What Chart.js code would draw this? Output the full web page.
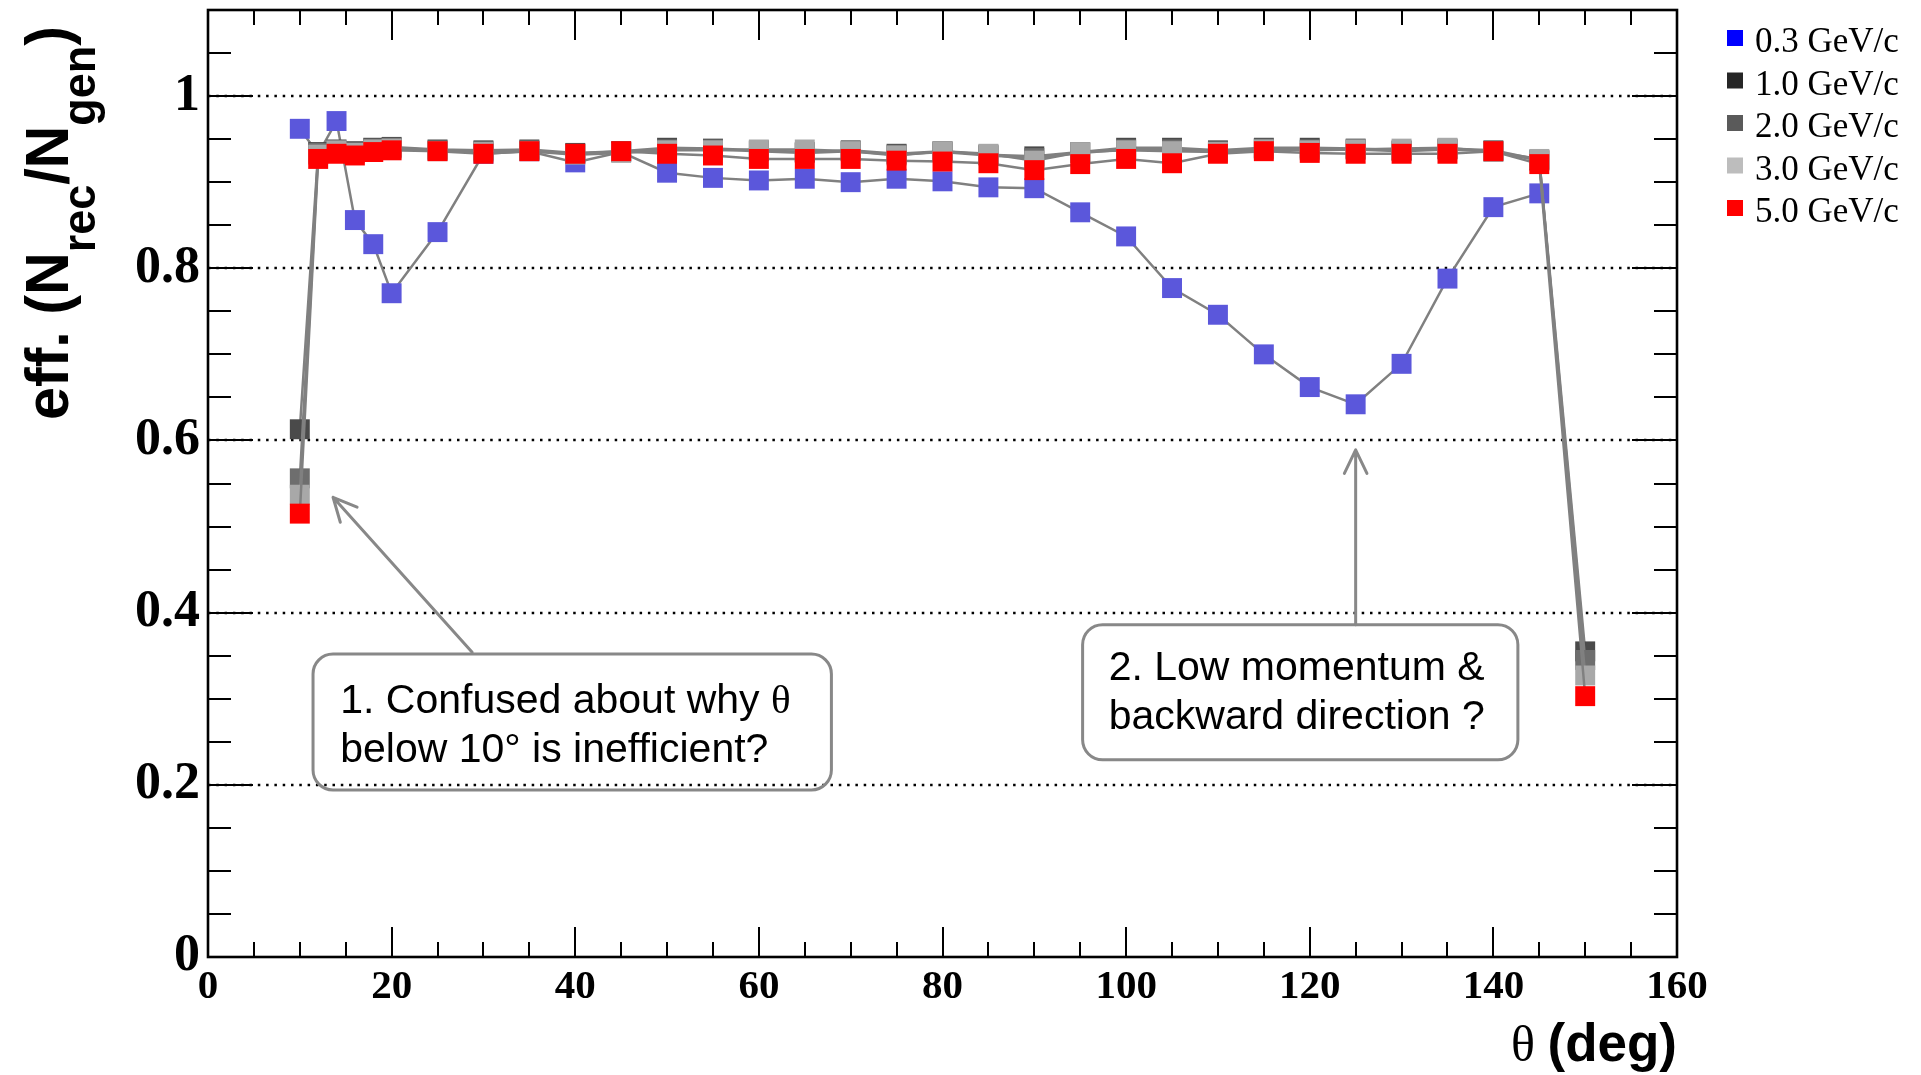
<!DOCTYPE html>
<html>
<head>
<meta charset="utf-8">
<script src="https://cdn.jsdelivr.net/npm/chart.js@4.4.1/dist/chart.umd.min.js"></script>
<style>
  html, body { margin: 0; padding: 0; background: #fff; }
  canvas { display: block; }
</style>
</head>
<body>
<canvas id="effChart" width="1921" height="1075"></canvas>
<script>
// polar angle of the generated track (deg)
const theta = [10, 12, 14, 16, 18, 20, 25, 30, 35, 40, 45, 50, 55, 60, 65, 70, 75, 80,
  85, 90, 95, 100, 105, 110, 115, 120, 125, 130, 135, 140, 145, 150];

// efficiency N_rec / N_gen for each momentum
const eff03 = [0.962, 0.933, 0.971, 0.856, 0.828, 0.771, 0.842, 0.933, 0.936, 0.923, 0.935, 0.911,
  0.905, 0.902, 0.904, 0.900, 0.904, 0.901, 0.894, 0.893, 0.865, 0.837, 0.777, 0.746, 0.700, 0.662,
  0.642, 0.689, 0.788, 0.871, 0.887, null];
const eff10 = [0.613, 0.935, 0.938, 0.936, 0.940, 0.941, 0.938, 0.937, 0.938, 0.934, 0.936, 0.940,
  0.939, 0.937, 0.935, 0.937, 0.933, 0.936, 0.932, 0.930, 0.935, 0.940, 0.940, 0.937, 0.940, 0.940,
  0.939, 0.937, 0.939, 0.937, 0.926, 0.355];
const eff20 = [0.556, 0.934, 0.936, 0.935, 0.939, 0.940, 0.937, 0.936, 0.937, 0.933, 0.935, 0.938,
  0.938, 0.936, 0.934, 0.936, 0.932, 0.935, 0.931, 0.928, 0.934, 0.938, 0.938, 0.936, 0.939, 0.938,
  0.938, 0.936, 0.938, 0.936, 0.925, 0.345];
const eff30 = [0.537, 0.932, 0.937, 0.934, 0.938, 0.939, 0.936, 0.935, 0.936, 0.932, 0.934, 0.937,
  0.937, 0.938, 0.938, 0.936, 0.931, 0.936, 0.933, 0.925, 0.935, 0.937, 0.936, 0.935, 0.938, 0.937,
  0.938, 0.939, 0.940, 0.935, 0.927, 0.327];
const eff50 = [0.515, 0.927, 0.933, 0.931, 0.935, 0.937, 0.936, 0.933, 0.936, 0.933, 0.936, 0.933,
  0.931, 0.927, 0.927, 0.927, 0.925, 0.924, 0.922, 0.914, 0.921, 0.927, 0.922, 0.933, 0.936, 0.934,
  0.933, 0.933, 0.933, 0.936, 0.921, 0.303];

const seriesLabels = ["0.3 GeV/c", "1.0 GeV/c", "2.0 GeV/c", "3.0 GeV/c", "5.0 GeV/c"];
const seriesData = [eff03, eff10, eff20, eff30, eff50];
const markerColors = ["#5b57db", "#4a4a4a", "#6e6e6e", "#a8a8a8", "#ff0000"];
const legendColors = ["#0000ff", "#262626", "#5a5a5a", "#bdbdbd", "#ff0000"];

const xTickValues = [0, 20, 40, 60, 80, 100, 120, 140, 160];
const yTickValues = [0, 0.2, 0.4, 0.6, 0.8, 1];
const yTickLabels = ["0", "0.2", "0.4", "0.6", "0.8", "1"];

// the two comment boxes, placed in data units
const notes = [
  { lines: ["1. Confused about why θ", "below 10° is inefficient?"],
    box: [11.44, 0.352, 67.9, 0.194], text: [14.4, 0.284],
    arrowFrom: [28.77, 0.354], arrowTo: [13.62, 0.534] },
  { lines: ["2. Low momentum &", "backward direction ?"],
    box: [95.26, 0.386, 142.67, 0.229], text: [98.1, 0.322],
    arrowFrom: [125, 0.386], arrowTo: [125, 0.589] }
];

const SERIF = "'Liberation Serif', 'Times New Roman', serif";
const SANS = "'Liberation Sans', Arial, sans-serif";

// dotted grid, frame and inward ticks (ROOT style)
const framePlugin = {
  id: "frame",
  beforeDatasetsDraw(chart) {
    const { ctx, chartArea: a, scales: { x, y } } = chart;
    ctx.save();
    ctx.strokeStyle = "#000";
    ctx.lineWidth = 2.4;
    ctx.setLineDash([2.5, 5.8]);
    yTickValues.slice(1).forEach(v => {
      const py = Math.round(y.getPixelForValue(v));
      ctx.beginPath();
      ctx.moveTo(a.left, py);
      ctx.lineTo(a.right, py);
      ctx.stroke();
    });
    ctx.setLineDash([]);

    ctx.lineWidth = 2;
    for (let i = 1; i < 22; i++) {
      const py = Math.round(y.getPixelForValue(i * 0.05));
      const len = i % 4 === 0 ? 45 : 23;
      ctx.beginPath();
      ctx.moveTo(a.left, py); ctx.lineTo(a.left + len, py);
      ctx.moveTo(a.right, py); ctx.lineTo(a.right - len, py);
      ctx.stroke();
    }
    for (let v = 5; v < 160; v += 5) {
      const px = Math.round(x.getPixelForValue(v));
      const len = v % 20 === 0 ? 30 : 15;
      ctx.beginPath();
      ctx.moveTo(px, a.bottom); ctx.lineTo(px, a.bottom - len);
      ctx.moveTo(px, a.top); ctx.lineTo(px, a.top + len);
      ctx.stroke();
    }
    ctx.lineWidth = 2.6;
    ctx.strokeRect(a.left, a.top, a.right - a.left, a.bottom - a.top);
    ctx.restore();
  }
};

function drawMixed(ctx, str, x, y, size) {
  // theta is drawn in a serif face, the rest in sans
  const parts = str.split(/(θ)/);
  let cx = x;
  parts.forEach(p => {
    if (!p) return;
    ctx.font = size + "px " + (p === "θ" ? SERIF : SANS);
    ctx.fillText(p, cx, y);
    cx += ctx.measureText(p).width;
  });
}

function arrow(ctx, x0, y0, x1, y1) {
  const ang = Math.atan2(y1 - y0, x1 - x0);
  const head = 26, spread = Math.PI / 7;
  ctx.beginPath();
  ctx.moveTo(x0, y0); ctx.lineTo(x1, y1);
  ctx.moveTo(x1 - head * Math.cos(ang - spread), y1 - head * Math.sin(ang - spread));
  ctx.lineTo(x1, y1);
  ctx.lineTo(x1 - head * Math.cos(ang + spread), y1 - head * Math.sin(ang + spread));
  ctx.stroke();
}

const notesPlugin = {
  id: "notes",
  afterDatasetsDraw(chart) {
    const { ctx, scales: { x, y } } = chart;
    ctx.save();
    ctx.strokeStyle = "#888";
    ctx.lineWidth = 3;
    ctx.lineCap = "round";
    ctx.lineJoin = "round";
    notes.forEach(n => {
      const l = x.getPixelForValue(n.box[0]), t = y.getPixelForValue(n.box[1]);
      const r = x.getPixelForValue(n.box[2]), b = y.getPixelForValue(n.box[3]);
      ctx.beginPath();
      ctx.roundRect(l, t, r - l, b - t, 20);
      ctx.stroke();
      arrow(ctx, x.getPixelForValue(n.arrowFrom[0]), y.getPixelForValue(n.arrowFrom[1]),
        x.getPixelForValue(n.arrowTo[0]), y.getPixelForValue(n.arrowTo[1]));
      ctx.fillStyle = "#000";
      ctx.textBaseline = "alphabetic";
      ctx.textAlign = "left";
      const tx = x.getPixelForValue(n.text[0]);
      const ty = y.getPixelForValue(n.text[1]);
      n.lines.forEach((line, i) => drawMixed(ctx, line, tx, ty + i * 49, 41));
    });
    ctx.restore();
  }
};

const titlesPlugin = {
  id: "titles",
  afterDraw(chart) {
    const { ctx, chartArea: a } = chart;
    ctx.save();
    ctx.fillStyle = "#000";
    ctx.textBaseline = "alphabetic";
    ctx.textAlign = "left";

    // y title with subscripts, rotated
    const parts = [
      { t: "eff. (N", sub: false }, { t: "rec", sub: true },
      { t: "/N", sub: false }, { t: "gen", sub: true }, { t: ")", sub: false }
    ];
    ctx.translate(68, 420);
    ctx.rotate(-Math.PI / 2);
    ctx.scale(0.955, 1);
    let cx = 0;
    parts.forEach(p => {
      ctx.font = "bold " + (p.sub ? 47 : 62) + "px " + SANS;
      ctx.fillText(p.t, cx, p.sub ? 27 : 0);
      cx += ctx.measureText(p.t).width;
    });
    ctx.setTransform(1, 0, 0, 1, 0, 0);

    // x title, right aligned to the frame
    ctx.font = "50px " + SERIF;
    const wTheta = ctx.measureText("θ ").width;
    ctx.font = "bold 53px " + SANS;
    const wDeg = ctx.measureText("(deg)").width;
    const x0 = a.right - wTheta - wDeg;
    ctx.font = "50px " + SERIF;
    ctx.fillText("θ", x0, 1061);
    ctx.font = "bold 53px " + SANS;
    ctx.fillText("(deg)", x0 + wTheta, 1061);

    // legend, outside the frame at the top right
    ctx.font = "35px " + SERIF;
    seriesLabels.forEach((label, i) => {
      ctx.fillStyle = legendColors[i];
      ctx.fillRect(1727, 30 + i * 42.5, 16, 16);
      ctx.fillStyle = "#000";
      ctx.fillText(label, 1755, 52 + i * 42.5);
    });
    ctx.restore();
  }
};

const ctx = document.getElementById("effChart").getContext("2d");
const effChart = new Chart(ctx, {
  type: "line",
  data: {
    datasets: seriesLabels.map((label, i) => ({
      label: label,
      data: theta.map((t, j) => ({ x: t, y: seriesData[i][j] })),
      showLine: true,
      spanGaps: false,
      borderColor: "#808080",
      borderWidth: 2.5,
      pointStyle: "rect",
      pointRadius: 14.1,
      pointBackgroundColor: markerColors[i],
      pointBorderWidth: 0,
      order: 4 - i
    }))
  },
  options: {
    responsive: false,
    animation: false,
    devicePixelRatio: 1,
    events: [],
    layout: { autoPadding: false, padding: { left: 0, right: 244, top: 10, bottom: 0 } },
    plugins: {
      legend: { display: false },
      tooltip: { enabled: false }
    },
    scales: {
      x: {
        type: "linear",
        min: 0,
        max: 160,
        grid: { display: false, drawTicks: false },
        border: { display: false },
        afterBuildTicks: s => { s.ticks = xTickValues.map(v => ({ value: v })); },
        afterFit: s => { s.height = 118; s.paddingLeft = 0; s.paddingRight = 0; },
        ticks: {
          autoSkip: false,
          maxRotation: 0,
          padding: 6,
          color: "#000",
          font: { family: SERIF, size: 41, weight: "bold" },
          callback: v => String(v)
        }
      },
      y: {
        type: "linear",
        min: 0,
        max: 1.1,
        grid: { display: false, drawTicks: false },
        border: { display: false },
        afterBuildTicks: s => { s.ticks = yTickValues.map(v => ({ value: v })); },
        afterFit: s => { s.width = 208; s.paddingTop = 0; s.paddingBottom = 0; },
        ticks: {
          autoSkip: false,
          padding: 8,
          color: "#000",
          font: { family: SERIF, size: 52, weight: "bold" },
          callback: (v, i) => yTickLabels[i]
        }
      }
    }
  },
  plugins: [framePlugin, notesPlugin, titlesPlugin]
});
</script>
</body>
</html>
